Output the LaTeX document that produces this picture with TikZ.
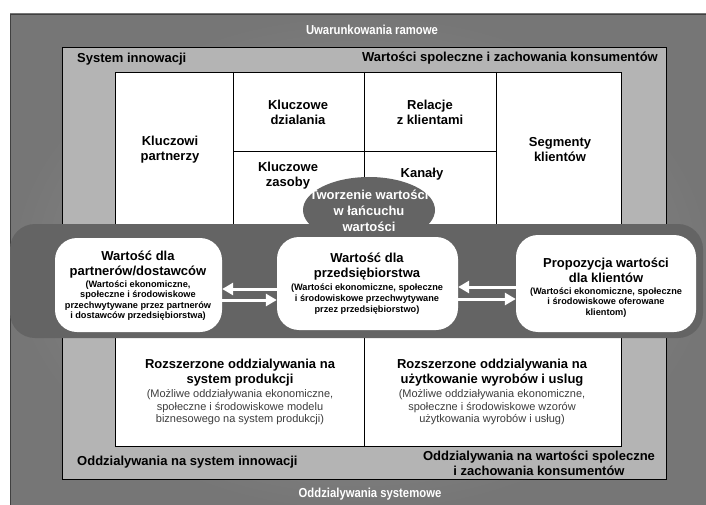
\documentclass[tikz,border=0pt]{standalone}
\usepackage{fontspec}
\setmainfont{Liberation Sans}
\usetikzlibrary{arrows.meta,shapes.geometric}
\definecolor{outerlight}{HTML}{979797}
\definecolor{outerdark}{HTML}{767676}
\definecolor{midgray}{HTML}{B4B4B4}
\definecolor{bandgray}{HTML}{646464}
\definecolor{subtextc}{HTML}{3C3C3C}
\tikzset{
  lab/.style={inner sep=0pt, align=center, font=\fontsize{13}{15}\selectfont\bfseries},
  wlab/.style={lab, text=white},
  framew/.style={inner sep=0pt, align=center, text=white, font=\fontsize{13}{15}\selectfont\bfseries},
  boxtitle/.style={inner sep=0pt, align=center, font=\fontsize{13}{15}\selectfont\bfseries},
  boxsub/.style={inner sep=0pt, align=center, font=\fontsize{9.2}{10.6}\selectfont\bfseries},
  impsub/.style={inner sep=0pt, align=center, text=subtextc, font=\fontsize{11}{12.5}\selectfont},
  valbox/.style={draw=none, fill=white, rounded corners=22pt, inner sep=0pt},
  cell/.style={draw=black, line width=0.8pt, fill=white},
  arr/.style={draw=white, line width=3pt, -{Triangle[length=11pt,width=12pt]}},
}
\begin{document}
\begin{tikzpicture}[x=1pt,y=-1pt]
\useasboundingbox (0,0) rectangle (706,505);
\fill[white] (0,0) rectangle (706,505);
\clip (0,0) rectangle (706,505);
% outer frame
\shade[inner color=outerlight, outer color=outerdark] (10,14) rectangle (712,512);
\draw[black!75, line width=0.8pt] (712,14) -- (10,14) -- (10,512);
% middle frame
\draw[fill=midgray, line width=0.8pt] (62,47) rectangle (666,479);
% canvas grid
\draw[cell] (115,72) rectangle (621,230);
\draw[line width=0.8pt] (233,72) -- (233,230) (364,72) -- (364,230) (496,72) -- (496,230) (233,151) -- (496,151);
% bottom boxes
\draw[cell] (115,330) rectangle (364,446);
\draw[cell] (364,330) rectangle (621,446);
% band
\fill[bandgray, rounded corners=25pt] (10,224) rectangle (703,338);
\node[ellipse, fill=bandgray, minimum width=132pt, minimum height=66pt, inner sep=0pt] (TW) at (369,210) {};
\node[wlab, font=\fontsize{13}{16}\selectfont\bfseries] (TWt) at (369,211) {Tworzenie wartości\\w łańcuchu\\wartości};
% value boxes
\node[valbox, minimum width=167pt, minimum height=94pt] (L) at (138.5,285) {};
\node[valbox, minimum width=181pt, minimum height=93pt] (M) at (367.5,283.5) {};
\node[valbox, minimum width=180pt, minimum height=97pt] (R) at (606,283.5) {};
\node[boxtitle] (Lt) at (138,264.5) {Wartość dla\\partnerów/dostawców};
\node[boxsub] (Ls) at (138,300.5) {(Wartości ekonomiczne,\\społeczne i środowiskowe\\przechwytywane przez partnerów\\i dostawców przedsiębiorstwa)};
\node[boxtitle] (Mt) at (367,267) {Wartość dla\\przedsiębiorstwa};
\node[boxsub] (Ms) at (367,299) {(Wartości ekonomiczne, społeczne\\i środowiskowe przechwytywane\\przez przedsiębiorstwo)};
\node[boxtitle] (Rt) at (606,270) {Propozycja wartości\\dla klientów};
\node[boxsub] (Rs) at (606,302.5) {(Wartości ekonomiczne, społeczne\\i środowiskowe oferowane\\klientom)};
% arrows
\coordinate (ya) at (0,289); \coordinate (yb) at (0,300);
\coordinate (yc) at (0,287); \coordinate (yd) at (0,299);
\draw[arr] (M.west |- ya) -- (L.east |- ya);
\draw[arr] (L.east |- yb) -- (M.west |- yb);
\draw[arr] (R.west |- yc) -- (M.east |- yc);
\draw[arr] (M.east |- yd) -- (R.west |- yd);
% grid labels
\node[lab] (kp) at (170,150) {Kluczowi\\partnerzy};
\node[lab] (kd) at (298,112) {Kluczowe\\dzialania};
\node[lab] (rk) at (430,112) {Relacje\\z klientami};
\node[lab] (kz) at (288,176) {Kluczowe\\zasoby};
\node[lab] (ka) at (422,174) {Kanały};
\node[lab] (sk) at (560,150) {Segmenty\\klientów};
% bottom box texts
\node[boxtitle] (p1) at (240,373) {Rozszerzone oddzialywania na\\system produkcji};
\node[impsub] (p2) at (240,407.5) {(Możliwe oddziaływania ekonomiczne,\\społeczne i środowiskowe modelu\\biznesowego na system produkcji)};
\node[boxtitle] (u1) at (492,373) {Rozszerzone oddzialywania na\\użytkowanie wyrobów i uslug};
\node[impsub] (u2) at (492,407.5) {(Możliwe oddziaływania ekonomiczne,\\społeczne i środowiskowe wzorów\\użytkowania wyrobów i usług)};
% frame labels
\node[framew] (t0) at (372,30) {\scalebox{0.87}[1]{Uwarunkowania ramowe}};
\node[lab, anchor=west] (t1) at (77,59) {System innowacji};
\node[lab, anchor=east] (t2) at (658,58) {Wartości spoleczne i zachowania konsumentów};
\node[lab, anchor=west] (b1) at (77,462) {Oddzialywania na system innowacji};
\node[lab] (b2) at (539,463) {Oddzialywania na wartości spoleczne\\i zachowania konsumentów};
\node[framew] (b3) at (370,494) {\scalebox{0.87}[1]{Oddzialywania systemowe}};
\end{tikzpicture}
\end{document}
